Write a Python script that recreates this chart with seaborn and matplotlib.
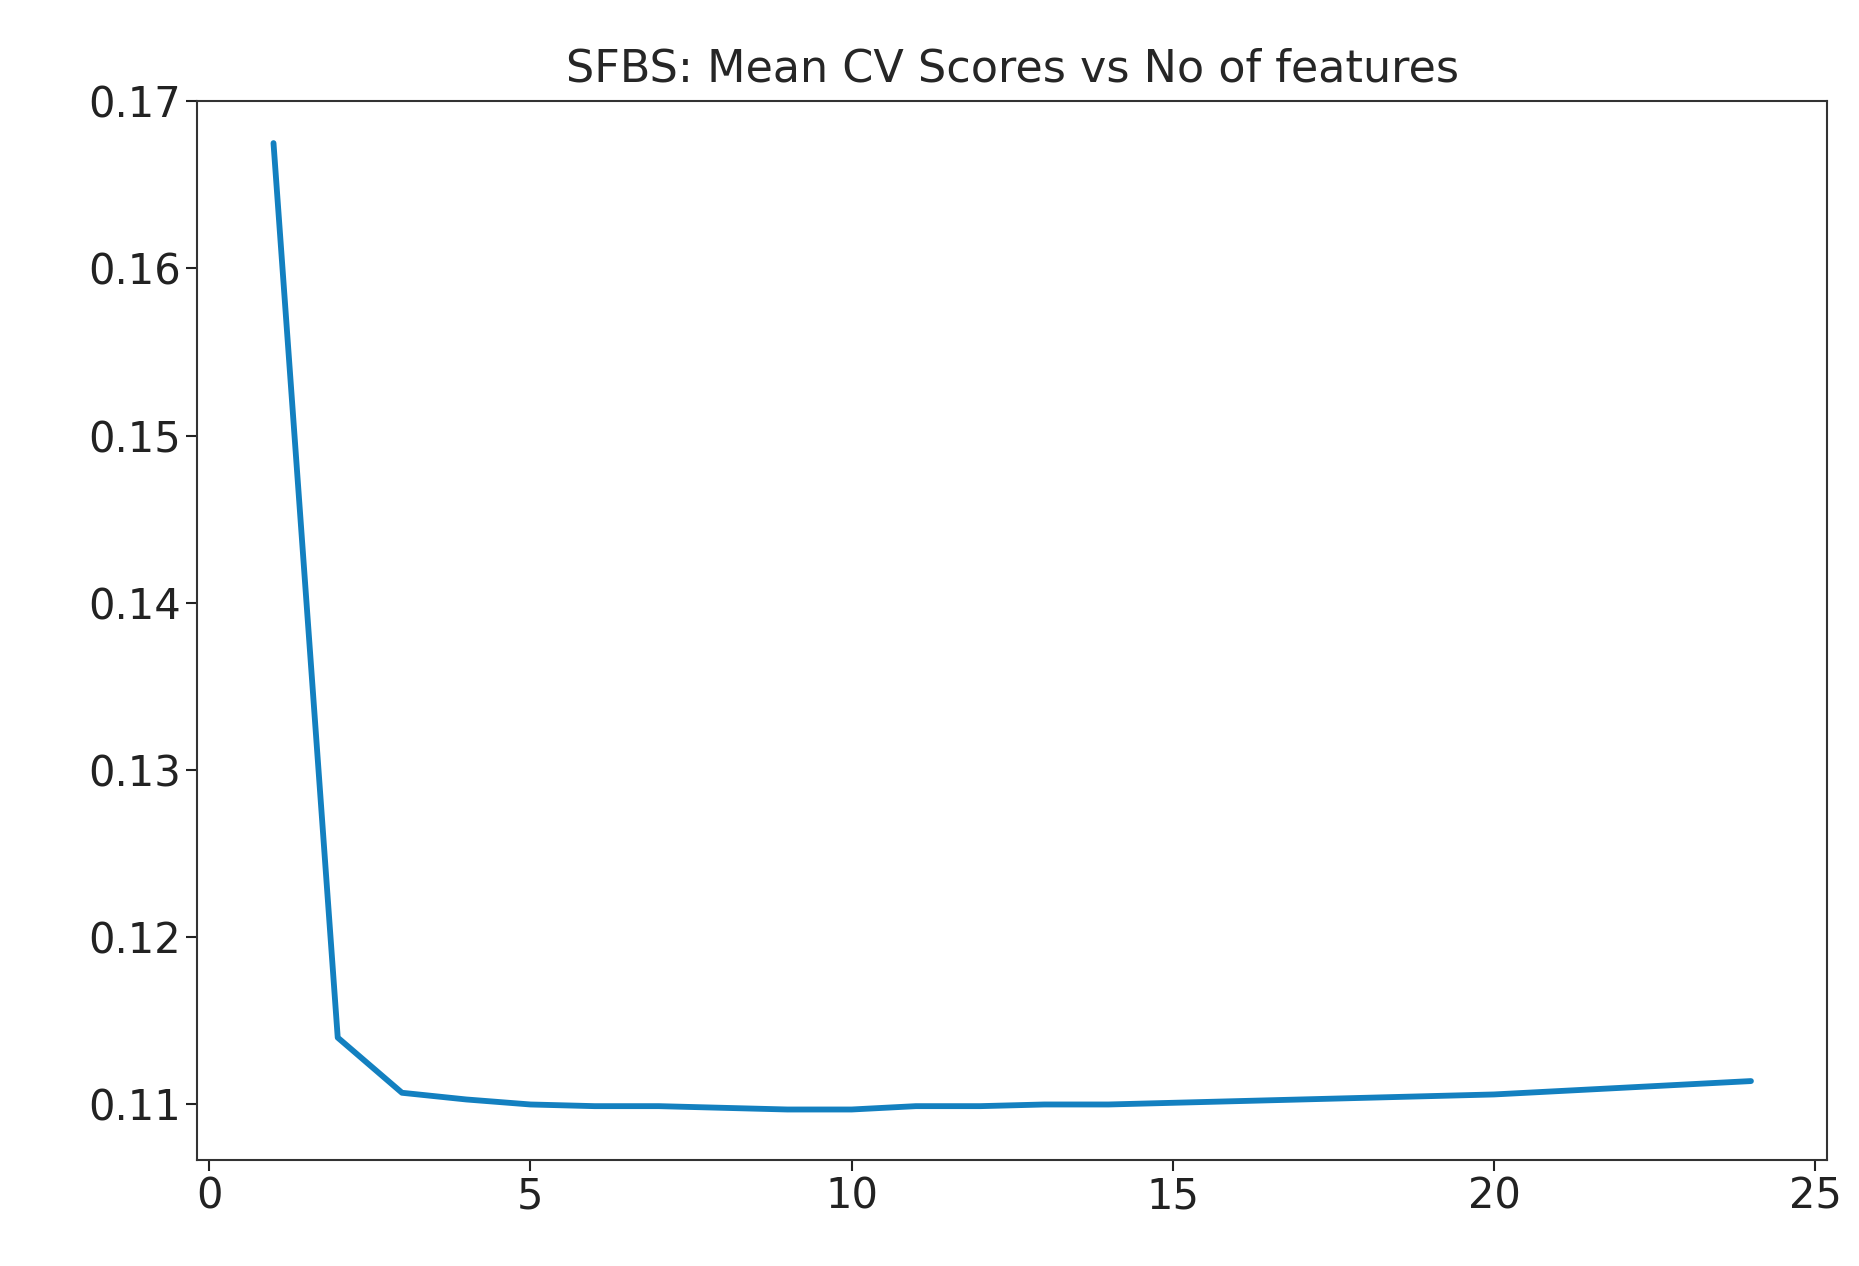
import matplotlib
matplotlib.use("Agg")
import matplotlib.pyplot as plt
import seaborn as sns
import pandas as pd

n_features = list(range(1, 25))
mean_cv_scores = [0.1675, 0.1140, 0.1107, 0.1103, 0.1100, 0.1099, 0.1099, 0.1098,
                  0.1097, 0.1097, 0.1099, 0.1099, 0.1100, 0.1100, 0.1101, 0.1102,
                  0.1103, 0.1104, 0.1105, 0.1106, 0.1108, 0.1110, 0.1112, 0.1114]

sns.set_style("ticks")
plt.rcParams['font.family'] = ['DejaVu Sans']
df = pd.DataFrame({"n": n_features, "score": mean_cv_scores})
fig = plt.figure(figsize=(18.59, 12.66), dpi=100)
ax = fig.add_axes([0.106, 0.084, 0.877, 0.836])
sns.lineplot(data=df, x="n", y="score", ax=ax, color="#1380c0", linewidth=4.2)
ax.set_xlim(-0.19, 25.19)
ax.set_ylim(0.1067, 0.17)
ax.set_xticks([0, 5, 10, 15, 20, 25])
ax.set_yticks([0.11, 0.12, 0.13, 0.14, 0.15, 0.16, 0.17])
ax.set_xlabel("")
ax.set_ylabel("")
ax.tick_params(labelsize=30, length=8, width=1.5, colors="#222222")
for s in ax.spines.values():
    s.set_linewidth(1.5)
    s.set_color("#333333")
ax.set_title("SFBS: Mean CV Scores vs No of features", fontsize=32, pad=14)
fig.savefig("out.png", dpi=100)
